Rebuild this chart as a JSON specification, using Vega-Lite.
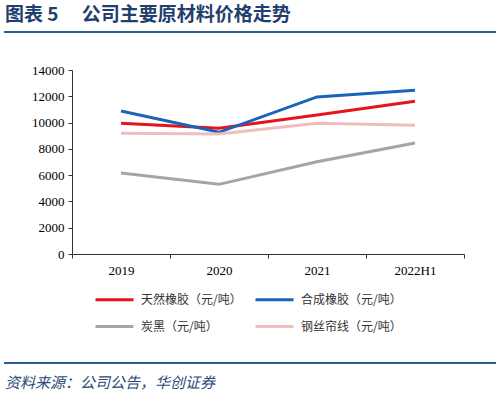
{
  "$schema": "https://vega.github.io/schema/vega-lite/v6.json",
  "width": 392,
  "height": 184,
  "autosize": {"type": "none"},
  "padding": {"left": 72, "top": 70, "right": 36, "bottom": 140},
  "background": "white",
  "config": {"view": {"stroke": null}},
  "layer": [
    {
      "data": {"values": [
        {"year": "2019", "series": "天然橡胶（元/吨）", "price": 9940},
        {"year": "2020", "series": "天然橡胶（元/吨）", "price": 9560},
        {"year": "2021", "series": "天然橡胶（元/吨）", "price": 10580},
        {"year": "2022H1", "series": "天然橡胶（元/吨）", "price": 11620},
        {"year": "2019", "series": "合成橡胶（元/吨）", "price": 10880},
        {"year": "2020", "series": "合成橡胶（元/吨）", "price": 9260},
        {"year": "2021", "series": "合成橡胶（元/吨）", "price": 11950},
        {"year": "2022H1", "series": "合成橡胶（元/吨）", "price": 12450},
        {"year": "2019", "series": "炭黑（元/吨）", "price": 6160},
        {"year": "2020", "series": "炭黑（元/吨）", "price": 5300},
        {"year": "2021", "series": "炭黑（元/吨）", "price": 7020},
        {"year": "2022H1", "series": "炭黑（元/吨）", "price": 8450},
        {"year": "2019", "series": "钢丝帘线（元/吨）", "price": 9180},
        {"year": "2020", "series": "钢丝帘线（元/吨）", "price": 9130},
        {"year": "2021", "series": "钢丝帘线（元/吨）", "price": 9940},
        {"year": "2022H1", "series": "钢丝帘线（元/吨）", "price": 9790}
      ]},
      "mark": {"type": "line", "strokeWidth": 3},
      "encoding": {
        "x": {
          "field": "year", "type": "nominal", "sort": null,
          "scale": {"paddingInner": 0, "paddingOuter": 0},
          "axis": {
            "title": null, "labelAngle": 0, "tickBand": "extent",
            "labelFont": "Liberation Serif", "labelFontSize": 13, "labelColor": "#000",
            "domainColor": "#333", "tickColor": "#333", "tickSize": 4, "labelPadding": 6
          }
        },
        "y": {
          "field": "price", "type": "quantitative",
          "scale": {"domain": [0, 14000], "nice": false},
          "axis": {
            "title": null, "grid": false, "format": "d",
            "values": [0, 2000, 4000, 6000, 8000, 10000, 12000, 14000],
            "labelFont": "Liberation Serif", "labelFontSize": 13, "labelColor": "#000",
            "domainColor": "#333", "tickColor": "#333", "tickSize": 4, "labelPadding": 4
          }
        },
        "color": {
          "field": "series", "type": "nominal",
          "scale": {
            "domain": ["天然橡胶（元/吨）", "合成橡胶（元/吨）", "炭黑（元/吨）", "钢丝帘线（元/吨）"],
            "range": ["#e3141c", "#1764b8", "#a5a5a5", "#f0bcbf"]
          },
          "legend": {
            "title": null, "orient": "none", "direction": "horizontal", "columns": 2,
            "legendX": 22, "legendY": 209, "padding": 0,
            "symbolType": "stroke", "symbolSize": 1444, "symbolStrokeWidth": 3,
            "labelFont": "Noto Sans CJK SC", "labelFontSize": 12, "labelColor": "#333",
            "labelOffset": 6, "columnPadding": 7, "rowPadding": -12
          }
        }
      }
    },
    {
      "data": {"values": [{"t": "图表 5 \u2003公司主要原材料价格走势"}]},
      "mark": {"type": "text", "font": "Noto Sans CJK SC", "fontSize": 19, "fontWeight": "bold", "color": "#1f3f6e", "align": "left", "baseline": "middle"},
      "encoding": {"text": {"field": "t"}, "x": {"value": -67}, "y": {"value": -55}}
    },
    {
      "data": {"values": [{"t": "rule"}]},
      "mark": {"type": "rule", "color": "#2b5d94", "strokeWidth": 2},
      "encoding": {"x": {"value": -68}, "x2": {"value": 424}, "y": {"value": -38}}
    },
    {
      "data": {"values": [{"t": "rule"}]},
      "mark": {"type": "rule", "color": "#2b5d94", "strokeWidth": 2},
      "encoding": {"x": {"value": -68}, "x2": {"value": 424}, "y": {"value": 293}}
    },
    {
      "data": {"values": [{"t": "资料来源：公司公告，华创证券"}]},
      "mark": {"type": "text", "font": "Noto Sans CJK SC", "fontSize": 15, "fontStyle": "italic", "color": "#2a4a78", "align": "left", "baseline": "middle"},
      "encoding": {"text": {"field": "t"}, "x": {"value": -67}, "y": {"value": 313}}
    }
  ]
}
